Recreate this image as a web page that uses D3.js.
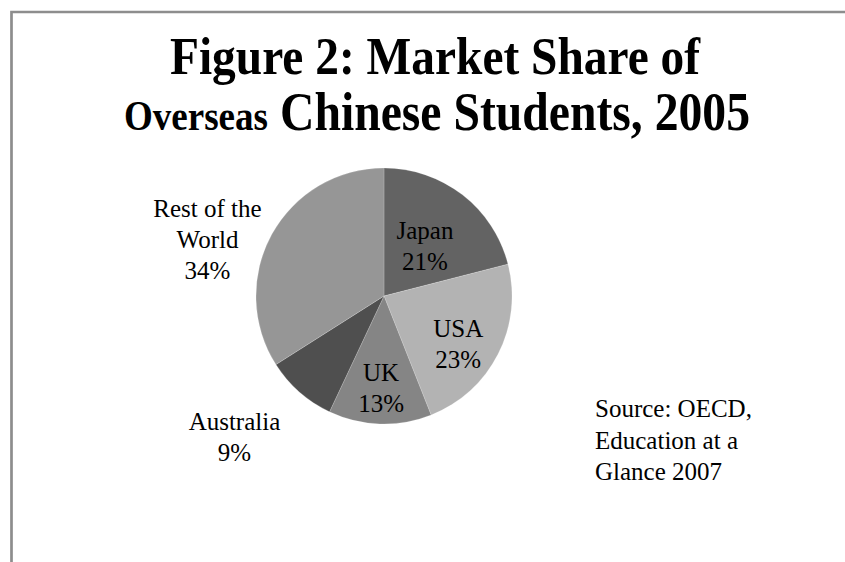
<!DOCTYPE html>
<html>
<head>
<meta charset="utf-8">
<script src="https://cdn.jsdelivr.net/npm/d3@7"></script>
<style>
  body { margin: 0; background: #fff; }
  text { font-family: "Liberation Serif", "Times New Roman", serif; fill: #000; }
</style>
</head>
<body>
<div id="draw"></div>
<script>
let W = 845, H = 562;

// data
let countries = ['Japan', 'USA', 'UK', 'Australia', 'Rest of the World'];
let shares = [21, 23, 13, 9, 34];
let colors = ['#636363', '#b3b3b3', '#858585', '#4f4f4f', '#969696'];
let labelLines = [['Japan'], ['USA'], ['UK'], ['Australia'], ['Rest of the', 'World']];
let sourceLines = ['Source: OECD,', 'Education at a', 'Glance 2007'];

let svg = d3.select('#draw').append('svg').attr('width', W).attr('height', H);

// frame (top + left edges only visible)
svg.append('path')
  .attr('d', 'M 11.5,562 V 12 H 845')
  .attr('fill', 'none')
  .attr('stroke', '#8d8d8d')
  .attr('stroke-width', 2.7);

// title, condensed like the original
svg.append('text').attr('x', 170).attr('y', 74)
  .attr('font-weight', 'bold').attr('font-size', 52)
  .attr('textLength', 530).attr('lengthAdjust', 'spacingAndGlyphs')
  .text('Figure 2: Market Share of');
svg.append('text').attr('x', 124).attr('y', 130)
  .attr('font-weight', 'bold').attr('font-size', 42)
  .attr('textLength', 144).attr('lengthAdjust', 'spacingAndGlyphs')
  .text('Overseas');
svg.append('text').attr('x', 280).attr('y', 130)
  .attr('font-weight', 'bold').attr('font-size', 54)
  .attr('textLength', 470).attr('lengthAdjust', 'spacingAndGlyphs')
  .text('Chinese Students, 2005');

// pie
let cx = 384, cy = 296, R = 128;
let pie = d3.pie().sort(null).value(d => d);
let arcs = pie(shares);
let arc = d3.arc().innerRadius(0).outerRadius(R);
let g = svg.append('g').attr('transform', 'translate(' + cx + ',' + cy + ')');

g.selectAll('path.slice').data(arcs).enter().append('path')
  .attr('class', 'slice')
  .attr('d', arc)
  .attr('fill', (d, i) => colors[i])
  .attr('stroke', 'rgba(255,255,255,0.25)')
  .attr('stroke-width', 0.7);

// label placement: radius along mid-angle, plus small nudge
let labR = [62, 90, 93, 205, 190];
let nudge = [[3, -1], [-6, 8], [0, 0], [-14, -12], [-10, 36]];
let lh = 31;
arcs.forEach(function(d, i) {
  let a = (d.startAngle + d.endAngle) / 2;
  let x = Math.sin(a) * labR[i] + nudge[i][0];
  let y = -Math.cos(a) * labR[i] + nudge[i][1];
  let lines = labelLines[i].concat([shares[i] + '%']);
  let y0 = y - (lines.length - 1) * lh / 2 + 8;
  let txt = g.append('text').attr('text-anchor', 'middle').attr('font-size', 25);
  lines.forEach(function(s, k) {
    txt.append('tspan').attr('x', x).attr('y', y0 + k * lh).text(s);
  });
});

// source note
let src = svg.append('text').attr('font-size', 25);
sourceLines.forEach(function(s, k) {
  src.append('tspan').attr('x', 595).attr('y', 417 + k * 31.5).text(s);
});
</script>
</body>
</html>
